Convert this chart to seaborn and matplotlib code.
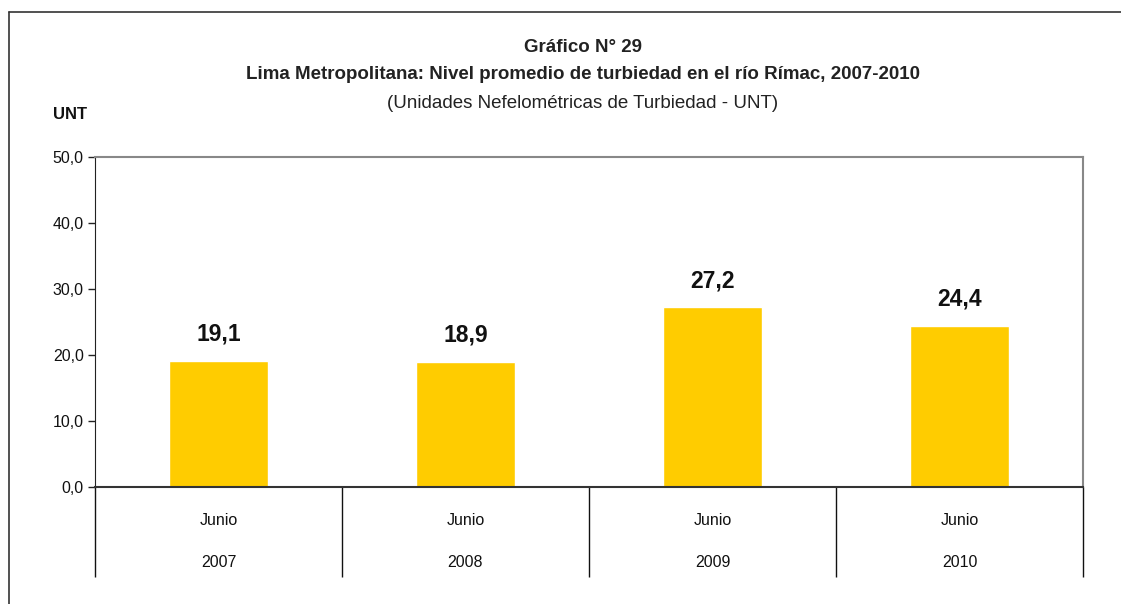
import numpy as np
import pandas as pd
import matplotlib
matplotlib.use("Agg")
import matplotlib.pyplot as plt
import matplotlib.ticker as mticker
from matplotlib.lines import Line2D
import seaborn as sns

# Data
months = ["Junio", "Junio", "Junio", "Junio"]
years = ["2007", "2008", "2009", "2010"]
turbidity = [19.1, 18.9, 27.2, 24.4]

df = pd.DataFrame({"year": years, "month": months, "unt": turbidity})

sns.set_style("white")
plt.rcParams["font.family"] = ["Liberation Sans", "DejaVu Sans"]

fig = plt.figure(figsize=(11.21, 6.04), dpi=100)
ax = fig.add_axes([0.0847, 0.1937, 0.8814, 0.5464])

sns.barplot(data=df, x="year", y="unt", color="#FFCC00", width=0.4,
            saturation=1, ax=ax)

ax.set_ylim(0, 50)
ax.set_xlim(-0.5, len(years) - 0.5)
ax.set_yticks(np.arange(0, 51, 10))
ax.yaxis.set_major_formatter(mticker.FuncFormatter(lambda v, p: f"{v:.1f}".replace(".", ",")))
ax.tick_params(axis="y", left=True, direction="out", length=5, width=1,
               color="#222222", labelsize=11.5, pad=3, labelcolor="#111111")

# category separators as long downward ticks
ax.set_xticks(np.arange(-0.5, len(years), 1.0))
ax.set_xticklabels([])
ax.tick_params(axis="x", bottom=True, direction="out", length=65, width=1,
               color="#111111")
ax.set_xlabel("")
ax.set_ylabel("")

for s in ["top", "right"]:
    ax.spines[s].set_color("#888888")
    ax.spines[s].set_linewidth(1.5)
ax.spines["left"].set_color("#222222")
ax.spines["bottom"].set_color("#333333")
ax.spines["bottom"].set_linewidth(1.5)

# value labels
labels = [f"{v:.1f}".replace(".", ",") for v in turbidity]
ax.bar_label(ax.containers[0], labels=labels, padding=11, fontsize=16.5,
             fontweight="bold", color="#111111")

# month / year labels under each category
trans = ax.get_xaxis_transform()
for i, (m, y) in enumerate(zip(months, years)):
    ax.text(i, -0.10, m, transform=trans, ha="center", va="center",
            fontsize=11.5, color="#111111")
    ax.text(i, -0.23, y, transform=trans, ha="center", va="center",
            fontsize=11.5, color="#111111")

# titles
fig.text(0.52, 0.922, "Gráfico N° 29", ha="center", va="center",
         fontsize=13.5, fontweight="bold", color="#222222")
fig.text(0.52, 0.876, "Lima Metropolitana: Nivel promedio de turbiedad en el río Rímac, 2007-2010",
         ha="center", va="center", fontsize=13.5, fontweight="bold", color="#222222")
fig.text(0.52, 0.829, "(Unidades Nefelométricas de Turbiedad - UNT)",
         ha="center", va="center", fontsize=13.5, color="#222222")
fig.text(0.047, 0.811, "UNT", ha="left", va="center", fontsize=12,
         fontweight="bold", color="#111111")

# outer frame (left and top edges)
fig.add_artist(Line2D([9 / 1121, 9 / 1121], [0, 1 - 12 / 604], transform=fig.transFigure,
                      color="#333333", lw=1.2))
fig.add_artist(Line2D([9 / 1121, 1], [1 - 12 / 604, 1 - 12 / 604], transform=fig.transFigure,
                      color="#333333", lw=1.2))

fig.savefig("out.png", dpi=100)
